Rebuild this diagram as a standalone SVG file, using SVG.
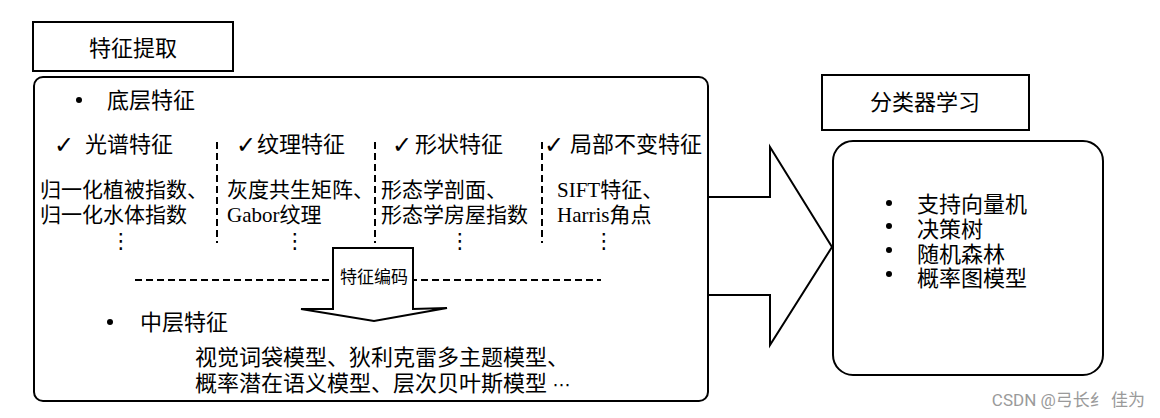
<svg xmlns="http://www.w3.org/2000/svg" width="1160" height="418" viewBox="0 0 1160 418">
<style>
.box{fill:#fff;stroke:#000;stroke-width:2}
.t{font-family:"Liberation Serif","Noto Sans CJK SC",serif;fill:#000}
.t22{font-size:22px}
.t21{font-size:21px}
.chk{font-family:"DejaVu Sans",sans-serif;font-size:24px;fill:#000}
.dots{font-family:"DejaVu Sans",sans-serif;font-size:21px;fill:#000}
.dash{stroke:#000;stroke-width:2;stroke-dasharray:7 4;fill:none}
</style>
<rect width="1160" height="418" fill="#fff"/>
<g id="title-extract">
<rect class="box" x="33" y="22" width="200" height="49"/>
<text class="t t22" x="133" y="56" text-anchor="middle">特征提取</text>
</g>
<g id="extract-panel">
<rect class="box" x="34" y="77" width="674" height="324" rx="9"/>
<circle cx="79" cy="100" r="3" fill="#000"/>
<text class="t t22" x="107" y="108">底层特征</text>
<text class="chk" x="54" y="153">✓</text>
<text class="t t22" x="85" y="152">光谱特征</text>
<text class="chk" x="236" y="153">✓</text>
<text class="t t22" x="257" y="152">纹理特征</text>
<text class="chk" x="392" y="153">✓</text>
<text class="t t22" x="415" y="152">形状特征</text>
<text class="chk" x="544" y="153">✓</text>
<text class="t t22" x="570" y="152">局部不变特征</text>
<path class="dash" d="M217 142V243M375 142V243M542 142V243"/>
<text class="t t21" x="40" y="197">归一化植被指数、</text>
<text class="t t21" x="40" y="222">归一化水体指数</text>
<text class="t t21" x="227" y="197">灰度共生矩阵、</text>
<text class="t t21" x="227" y="222">Gabor纹理</text>
<text class="t t21" x="381" y="197">形态学剖面、</text>
<text class="t t21" x="381" y="222">形态学房屋指数</text>
<text class="t t21" x="557" y="197">SIFT特征、</text>
<text class="t t21" x="557" y="222">Harris角点</text>
<text class="dots" x="121" y="248" text-anchor="middle">⋮</text>
<text class="dots" x="295" y="248" text-anchor="middle">⋮</text>
<text class="dots" x="460" y="248" text-anchor="middle">⋮</text>
<text class="dots" x="604" y="248" text-anchor="middle">⋮</text>
<path class="dash" d="M135 280H601"/>
<circle cx="110" cy="322" r="3" fill="#000"/>
<text class="t t22" x="140" y="330">中层特征</text>
<text class="t t22" x="195" y="365">视觉词袋模型、狄利克雷多主题模型、</text>
<text class="t t22" x="195" y="391">概率潜在语义模型、层次贝叶斯模型 <tspan font-family="DejaVu Sans" font-size="18">⋯</tspan></text>
</g>
<g id="connectors">
<polygon class="box" points="333,248 413,248 413,309 447,308 374,321 301,309 333,309"/>
<text class="t" x="374" y="283" font-size="17" text-anchor="middle">特征编码</text>
<polygon class="box" points="708,197 770,197 770,147 832,247 770,345 770,295 708,295"/>
</g>
<g id="title-classifier">
<rect class="box" x="822" y="75" width="207" height="55"/>
<text class="t t22" x="925" y="110" text-anchor="middle">分类器学习</text>
</g>
<g id="classifier-panel">
<rect class="box" x="833" y="141" width="270" height="234" rx="20"/>
<circle cx="889" cy="203" r="3" fill="#000"/>
<circle cx="889" cy="226" r="3" fill="#000"/>
<circle cx="889" cy="250" r="3" fill="#000"/>
<circle cx="889" cy="274" r="3" fill="#000"/>
<text class="t t22" x="917" y="212">支持向量机</text>
<text class="t t22" x="917" y="237">决策树</text>
<text class="t t22" x="917" y="262">随机森林</text>
<text class="t t22" x="917" y="286">概率图模型</text>
</g>
<text x="1145" y="406" text-anchor="end" font-family="Roboto,'Noto Sans CJK SC',sans-serif" font-size="17" fill="#9a9a9a">CSDN @弓长纟 佳为</text>
</svg>
